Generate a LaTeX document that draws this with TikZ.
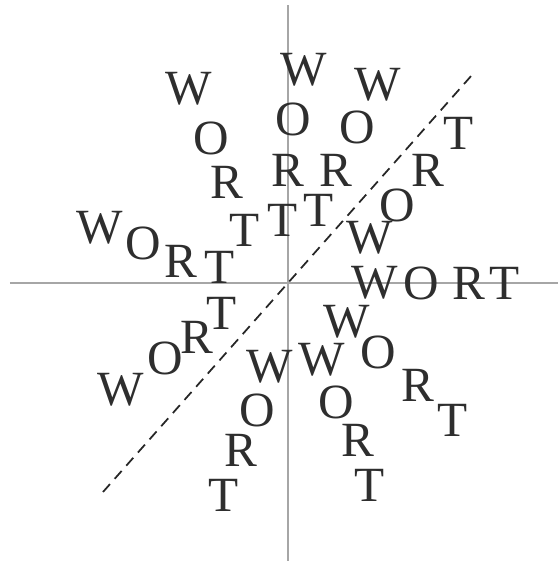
\documentclass[tikz,border=0pt]{standalone}
\usepackage{fontspec}
\setmainfont{Liberation Serif}
\usetikzlibrary{positioning}
\newcommand\lettres{\fontsize{28}{30}\selectfont}

\begin{document}
\begin{tikzpicture}[
    axe/.style={line width=1.4pt, gray!70},
    miroir/.style={line width=1pt, black!85, dash pattern=on 6pt off 4pt},
    lettre/.style={font=\lettres, text=black!82, inner sep=0pt}]
        \useasboundingbox (-5.76,-5.56) rectangle (5.40,5.66);

        % Les axes
        \coordinate (O) at (0,0);
        \coordinate (xg) at (-5.56,0);
        \coordinate (xd) at (5.40,0);
        \coordinate (yb) at (0,-5.56);
        \coordinate (yh) at (0,5.56);
        \draw[axe] (xg) -- (xd);
        \draw[axe] (yb) -- (yh);

        % Axe de symetrie (pointille)
        \coordinate (S1) at (-3.70,-4.18);
        \coordinate (S2) at (3.68,4.16);
        \draw[miroir] (S1) -- (S2);

        % Mot 1 (en haut a gauche)
        \node[lettre] (aW) at (-1.98,3.88) {W};
        \node[lettre] (aO) at (-1.54,2.90) {O};
        \node[lettre] (aR) at (-1.22,2.02) {R};
        \node[lettre] (aT) at (-0.86,1.06) {T};

        % Mot 2 (vertical)
        \node[lettre] (bW) at (0.32,4.26) {W};
        \node[lettre] (bO) at (0.10,3.28) {O};
        \node[lettre] (bR) at (0.00,2.26) {R};
        \node[lettre] (bT) at (-0.10,1.26) {T};

        % Mot 3 (en haut a droite)
        \node[lettre] (cW) at (1.80,3.96) {W};
        \node[lettre] (cO) at (1.38,3.12) {O};
        \node[lettre] (cR) at (0.96,2.26) {R};
        \node[lettre] (cT) at (0.62,1.46) {T};

        % Mot 4 (le long de la diagonale)
        \node[lettre] (dW) at (1.64,0.90) {W};
        \node[lettre] (dO) at (2.18,1.56) {O};
        \node[lettre] (dR) at (2.80,2.26) {R};
        \node[lettre] (dT) at (3.42,3.00) {T};

        % Mot 5 (a gauche)
        \node[lettre] (eW) at (-3.76,1.10) {W};
        \node[lettre] (eO) at (-2.90,0.80) {O};
        \node[lettre] (eR) at (-2.14,0.44) {R};
        \node[lettre] (eT) at (-1.36,0.32) {T};

        % Mot 6 (horizontal, a droite)
        \node[lettre] (fW) at (1.74,0) {W};
        \node[lettre] (fO) at (2.66,0) {O};
        \node[lettre] (fR) at (3.62,0) {R};
        \node[lettre] (fT) at (4.34,0) {T};

        % Mot 7 (en bas a gauche)
        \node[lettre] (gW) at (-3.34,-2.14) {W};
        \node[lettre] (gO) at (-2.46,-1.50) {O};
        \node[lettre] (gR) at (-1.82,-1.08) {R};
        \node[lettre] (gT) at (-1.32,-0.60) {T};

        % Mot 8 (vers le bas, a gauche)
        \node[lettre] (hW) at (-0.36,-1.68) {W};
        \node[lettre] (hO) at (-0.62,-2.54) {O};
        \node[lettre] (hR) at (-0.94,-3.34) {R};
        \node[lettre] (hT) at (-1.28,-4.24) {T};

        % Mot 9 (vers le bas, a droite)
        \node[lettre] (iW) at (0.68,-1.54) {W};
        \node[lettre] (iO) at (0.96,-2.38) {O};
        \node[lettre] (iR) at (1.40,-3.14) {R};
        \node[lettre] (iT) at (1.64,-4.04) {T};

        % Mot 10 (en bas a droite)
        \node[lettre] (jW) at (1.18,-0.78) {W};
        \node[lettre] (jO) at (1.80,-1.38) {O};
        \node[lettre] (jR) at (2.60,-2.04) {R};
        \node[lettre] (jT) at (3.30,-2.74) {T};
    \end{tikzpicture}
\end{document}
